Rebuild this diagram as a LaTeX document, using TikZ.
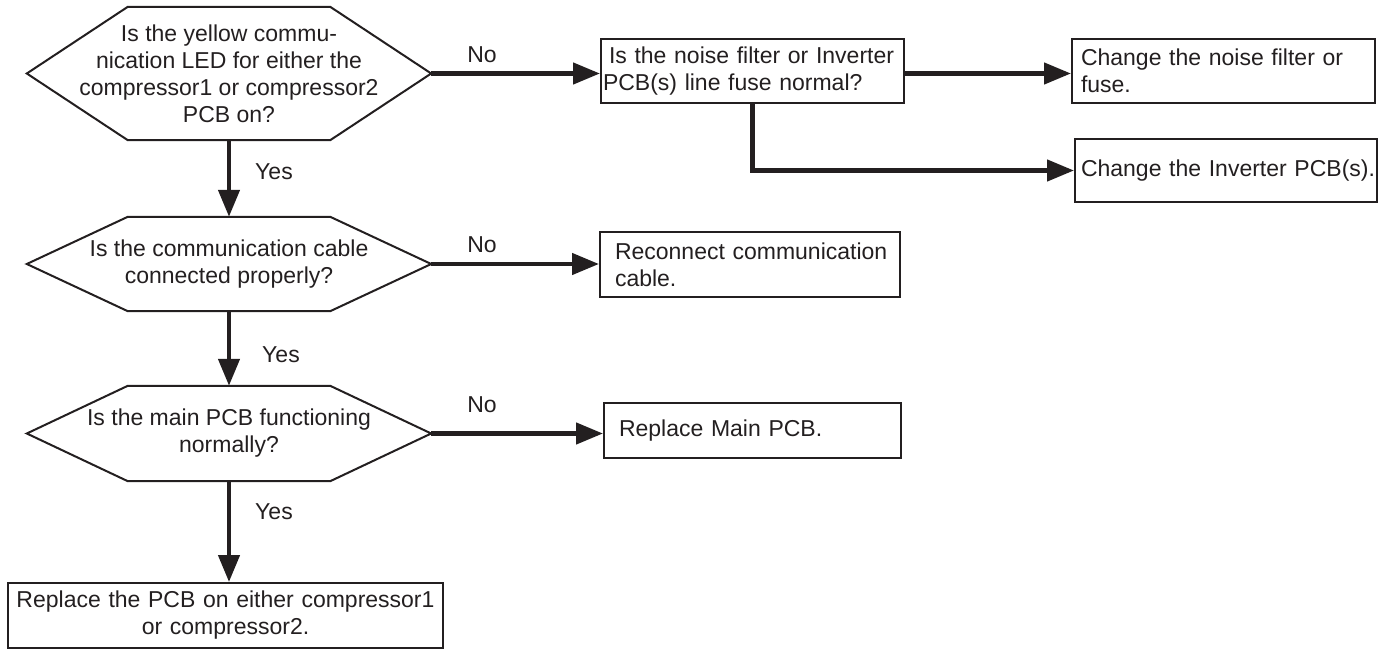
\documentclass[tikz,border=0pt]{standalone}
\usepackage{fontspec}
\setmainfont{Liberation Sans}
\usetikzlibrary{arrows.meta}
\definecolor{ink}{HTML}{231F20}
\begin{document}
\begin{tikzpicture}[x=1pt,y=-1pt,
  every node/.style={text=ink, font=\fontsize{23}{27}\selectfont},
  hexnode/.style={inner sep=0pt, align=center, minimum width=404pt},
  hexline/.style={draw=ink, line width=2pt, line join=miter},
  boxnode/.style={draw=ink, line width=2pt, inner ysep=0pt, align=left},
  conn/.style={draw=ink, line width=4.5pt, -{Triangle[length=27pt,width=21pt]}},
  lbl/.style={inner sep=0pt}]
\useasboundingbox (0,0) rectangle (1382,650);

% decision nodes
\node[hexnode, minimum height=133pt] (h1) at (229,73.5)
  {Is the yellow commu-\\nication LED for either the\\compressor1 or compressor2\\PCB on?};
\node[hexnode, minimum height=94pt] (h2) at (229,264)
  {Is the communication cable\\connected properly?};
\node[hexnode, minimum height=95pt] (h3) at (229,433.5)
  {Is the main PCB functioning\\normally?};

\foreach \h in {h1,h2,h3}{
  \draw[hexline] (\h.west) -- ([xshift=101pt]\h.north west) -- ([xshift=-101pt]\h.north east)
    -- (\h.east) -- ([xshift=-101pt]\h.south east) -- ([xshift=101pt]\h.south west) -- cycle;
}

% action boxes
\node[boxnode, inner xsep=2pt, text width=299pt, minimum height=64pt] (b1) at (752.5,71)
  {\hspace*{6pt}\mbox{Is the noise filter or Inverter}\\\mbox{PCB(s) line fuse normal?}};
\node[boxnode, inner xsep=9pt, text width=285pt, minimum height=64pt] (b2) at (1223.5,71)
  {\mbox{Change the noise filter or}\\fuse.};
\node[boxnode, inner xsep=6pt, text width=290pt, minimum height=63pt] (b3) at (1226,170.5)
  {\mbox{Change the Inverter PCB(s).}};
\node[boxnode, inner xsep=15pt, text width=270pt, minimum height=65pt] (b4) at (750,264.5)
  {\mbox{Reconnect communication}\\cable.};
\node[boxnode, inner xsep=15pt, text width=267pt, minimum height=55pt] (b5) at (752.5,430.5)
  {\mbox{Replace Main PCB.}};
\node[boxnode, align=center, inner xsep=5pt, text width=425pt, minimum height=65pt] (b6) at (225.5,615.5)
  {\mbox{Replace the PCB on either compressor1}\\\mbox{or compressor2.}};

% connectors
\draw[conn] (h1.east) -- (h1.east -| b1.west);
\draw[conn] (b1.east |- h1.east) -- (b2.west |- h1.east);
\draw[conn] (b1.south) |- (b3.west);
\draw[conn] (h1.south) -- (h2.north);
\draw[conn] (h2.east) -- (h2.east -| b4.west);
\draw[conn] (h2.south) -- (h3.north);
\draw[conn] (h3.east) -- (h3.east -| b5.west);
\draw[conn] (h3.south) -- (h3.south |- b6.north);

% labels
\node[lbl] (n1) at (482,55) {No};
\node[lbl] (n2) at (482,245) {No};
\node[lbl] (n3) at (482,405) {No};
\node[lbl] (y1) at (274,172) {Yes};
\node[lbl] (y2) at (281,355) {Yes};
\node[lbl] (y3) at (274,512) {Yes};
\end{tikzpicture}
\end{document}
